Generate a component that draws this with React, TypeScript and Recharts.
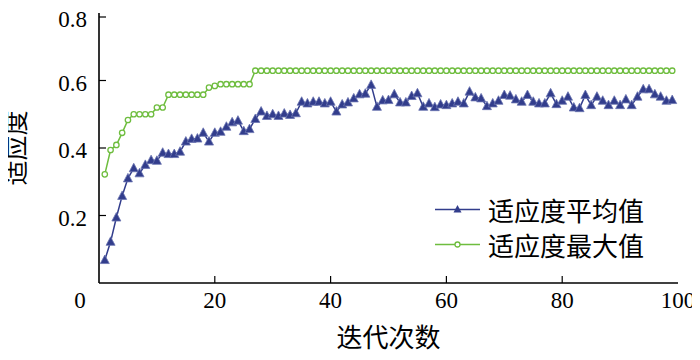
import React from 'react';
import { LineChart, Line, XAxis, YAxis, Legend, Label } from 'recharts';

// 每一代的适应度平均值 (第1代到第99代)
const avgFitness = [
  0.068, 0.122, 0.194, 0.258, 0.31, 0.34, 0.325, 0.35, 0.364, 0.362,
  0.386, 0.382, 0.382, 0.389, 0.419, 0.427, 0.428, 0.445, 0.419, 0.445,
  0.448, 0.463, 0.476, 0.481, 0.45, 0.456, 0.486, 0.508, 0.495, 0.5,
  0.495, 0.502, 0.498, 0.503, 0.537, 0.532, 0.537, 0.537, 0.532, 0.537,
  0.508, 0.529, 0.535, 0.547, 0.559, 0.561, 0.587, 0.522, 0.541, 0.542,
  0.559, 0.535, 0.535, 0.554, 0.562, 0.522, 0.532, 0.521, 0.529, 0.527,
  0.532, 0.537, 0.532, 0.567, 0.55, 0.547, 0.524, 0.532, 0.54, 0.557,
  0.555, 0.544, 0.537, 0.557, 0.537, 0.532, 0.532, 0.562, 0.53, 0.54,
  0.552, 0.52, 0.518, 0.557, 0.527, 0.552, 0.54, 0.527, 0.54, 0.527,
  0.544, 0.527, 0.552, 0.574, 0.574, 0.559, 0.552, 0.54, 0.542,
];

// 每一代的适应度最大值
const maxFitness = [
  0.322, 0.394, 0.409, 0.445, 0.483, 0.5, 0.5, 0.5, 0.5, 0.52,
  0.52, 0.558, 0.558, 0.558, 0.558, 0.558, 0.558, 0.558, 0.579, 0.584,
  0.589, 0.589, 0.589, 0.589, 0.589, 0.589, 0.629, 0.629, 0.629, 0.629,
  0.629, 0.629, 0.629, 0.629, 0.629, 0.629, 0.629, 0.629, 0.629, 0.629,
  0.629, 0.629, 0.629, 0.629, 0.629, 0.629, 0.629, 0.629, 0.629, 0.629,
  0.629, 0.629, 0.629, 0.629, 0.629, 0.629, 0.629, 0.629, 0.629, 0.629,
  0.629, 0.629, 0.629, 0.629, 0.629, 0.629, 0.629, 0.629, 0.629, 0.629,
  0.629, 0.629, 0.629, 0.629, 0.629, 0.629, 0.629, 0.629, 0.629, 0.629,
  0.629, 0.629, 0.629, 0.629, 0.629, 0.629, 0.629, 0.629, 0.629, 0.629,
  0.629, 0.629, 0.629, 0.629, 0.629, 0.629, 0.629, 0.629, 0.629,
];

const xTicks = [0, 20, 40, 60, 80, 100];
const yTicks = [0, 0.2, 0.4, 0.6, 0.8];

const data = avgFitness.map((v, i) => ({
  gen: i + 1,
  '适应度平均值': v,
  '适应度最大值': maxFitness[i],
}));

const BLUE = '#323d8c';
const GREEN = '#6ebd3e';
const FONT = 'Liberation Serif, serif';
const CJK = 'Noto Sans CJK SC';

const TriangleDot = (props: any) => {
  const { cx, cy, index } = props;
  if (cx == null || cy == null) return <g key={index} />;
  return (
    <polygon
      key={index}
      points={`${cx},${cy - 5} ${cx - 4.5},${cy + 3.5} ${cx + 4.5},${cy + 3.5}`}
      fill={BLUE}
      stroke="#6a73b0"
      strokeWidth={0.8}
    />
  );
};

const CircleDot = (props: any) => {
  const { cx, cy, index } = props;
  if (cx == null || cy == null) return <g key={index} />;
  return <circle key={index} cx={cx} cy={cy} r={2.7} fill="#fff" stroke={GREEN} strokeWidth={1.3} />;
};

const XTick = (props: any) => {
  const { x, y, payload } = props;
  const v = payload.value;
  const showLine = v !== 0 && v !== 100;
  return (
    <g>
      {showLine && <line x1={x} y1={y} x2={x} y2={y - 7} stroke="#000" strokeWidth={1.2} />}
      <text x={v === 0 ? x - 19 : x} y={y + 25} textAnchor="middle" fontFamily={FONT} fontSize={23} fill="#000">
        {v}
      </text>
    </g>
  );
};

const YTick = (props: any) => {
  const { x, y, payload } = props;
  const v = payload.value;
  if (v === 0) return <g />;
  return (
    <g>
      <line x1={x} y1={y} x2={x + 7} y2={y} stroke="#000" strokeWidth={1.2} />
      <text x={x - 12} y={y + 10} textAnchor="end" fontFamily={FONT} fontSize={23} fill="#000">
        {v.toFixed(1)}
      </text>
    </g>
  );
};

const renderLegend = (props: any) => {
  const { payload } = props;
  return (
    <div style={{ fontFamily: CJK }}>
      {(payload || []).map((entry: any) => {
        const isAvg = entry.value === '适应度平均值';
        return (
          <div key={entry.value} style={{ display: 'flex', alignItems: 'center', height: 35 }}>
            <svg width={48} height={35}>
              <line x1={2} y1={17.5} x2={47} y2={17.5} stroke={entry.color} strokeWidth={1.5} />
              {isAvg ? (
                <polygon points="24.5,13 20.5,20.5 28.5,20.5" fill={BLUE} />
              ) : (
                <circle cx={24.5} cy={17.5} r={2.5} fill="#fff" stroke={GREEN} strokeWidth={1.3} />
              )}
            </svg>
            <span style={{ marginLeft: 7, fontSize: 26, lineHeight: '30px', color: '#000' }}>{entry.value}</span>
          </div>
        );
      })}
    </div>
  );
};

export default function App() {
  return (
    <div style={{ width: 692, height: 352 }}>
      <style>{'.recharts-surface { overflow: visible; }'}</style>
      <LineChart width={692} height={352} data={data} margin={{ top: 5, right: 22, left: 6, bottom: 13 }}>
        <XAxis
          dataKey="gen"
          type="number"
          domain={[0, 100]}
          ticks={xTicks}
          tickSize={0}
          tickMargin={0}
          tickLine={false}
          tick={<XTick />}
          height={64}
          axisLine={{ stroke: '#000', strokeWidth: 1.6 }}
        >
          <Label value="迭代次数" position="insideBottom" offset={0} style={{ fontSize: 26, fontFamily: CJK, fill: '#000' }} />
        </XAxis>
        <XAxis
          xAxisId="top"
          orientation="top"
          type="number"
          domain={[0, 100]}
          height={0}
          tick={false}
          tickLine={false}
          axisLine={{ stroke: '#000', strokeWidth: 1.6 }}
        />
        <YAxis
          type="number"
          domain={[0, 0.8]}
          ticks={yTicks}
          tickSize={0}
          tickMargin={0}
          tickLine={false}
          tick={<YTick />}
          width={85}
          axisLine={{ stroke: '#000', strokeWidth: 1.6 }}
        >
          <Label value="适应度" angle={-90} position="insideLeft" offset={2} style={{ textAnchor: 'middle', fontSize: 25, fontFamily: CJK, fill: '#000' }} />
        </YAxis>
        <YAxis
          yAxisId="right"
          orientation="right"
          type="number"
          domain={[0, 0.8]}
          width={0}
          tick={false}
          tickLine={false}
          axisLine={{ stroke: '#000', strokeWidth: 1.6 }}
        />
        <Legend
          layout="vertical"
          align="center"
          verticalAlign="middle"
          content={renderLegend}
          wrapperStyle={{ left: 425, top: 184, width: 260 }}
        />
        <Line
          type="linear"
          dataKey="适应度平均值"
          stroke={BLUE}
          strokeWidth={1.5}
          dot={TriangleDot}
          isAnimationActive={false}
        />
        <Line
          type="linear"
          dataKey="适应度最大值"
          stroke={GREEN}
          strokeWidth={1.5}
          dot={CircleDot}
          isAnimationActive={false}
        />
      </LineChart>
    </div>
  );
}
